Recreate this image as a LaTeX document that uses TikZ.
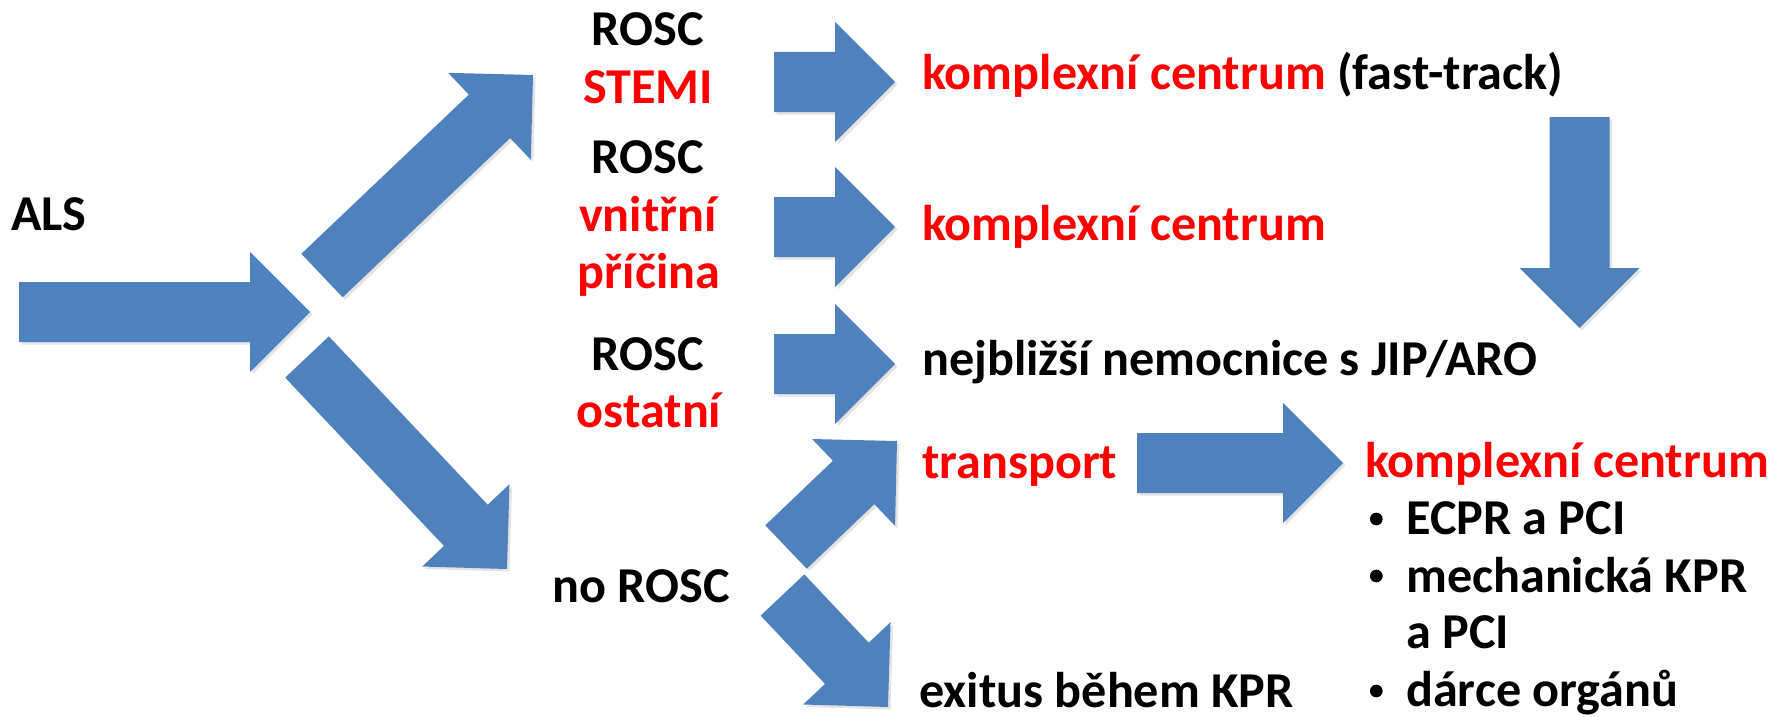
\documentclass[tikz,border=0pt]{standalone}
\usepackage{fontspec}
\setmainfont{Carlito}
\usetikzlibrary{calc,shadows}
\definecolor{arrowblue}{HTML}{4F81BD}
\definecolor{hot}{HTML}{FF0000}
\tikzset{
  flow/.style={fill=arrowblue, drop shadow={opacity=0.22, shadow xshift=2.5pt, shadow yshift=-2.5pt}},
  lbl/.style={inner sep=0pt, font=\bfseries\fontsize{50.2}{61}\selectfont, anchor=base west},
  clbl/.style={lbl, anchor=base},
  bul/.style={circle, fill=black, inner sep=0pt, minimum size=12.7pt},
}
% block arrow: body 60 wide, head 120 wide and 60 long, from tail #1 to tip #2
\newcommand\bluearrow[2]{%
  \coordinate (hb) at ($(#2)!60pt!(#1)$);
  \fill[flow] ($(#1)!30pt!90:(#2)$) -- ($(hb)!30pt!90:(#2)$) -- ($(hb)!60pt!90:(#2)$) -- (#2)
    -- ($(hb)!60pt!-90:(#2)$) -- ($(hb)!30pt!-90:(#2)$) -- ($(#1)!30pt!-90:(#2)$) -- cycle;
}
\begin{document}
\begin{tikzpicture}[x=1pt,y=-1pt]
\useasboundingbox (0,0) rectangle (1774,717);

% arrow end points
\coordinate (als-t) at (19,312);    \coordinate (als-p) at (310,312);
\coordinate (up-t) at (322,275.5);  \coordinate (up-p) at (533,75);
\coordinate (dn-t) at (307,357);    \coordinate (dn-p) at (507,569);
\coordinate (r1-t) at (774,82);     \coordinate (r1-p) at (895,82);
\coordinate (r2-t) at (774,227);    \coordinate (r2-p) at (895,227);
\coordinate (r3-t) at (774,364);    \coordinate (r3-p) at (895,364);
\coordinate (tu-t) at (786,547);    \coordinate (tu-p) at (897,441);
\coordinate (ex-t) at (782.5,595);  \coordinate (ex-p) at (888,707);
\coordinate (ft-t) at (1579.5,117); \coordinate (ft-p) at (1579.5,328);
\coordinate (tr-t) at (1137,463);   \coordinate (tr-p) at (1343,463);

\bluearrow{als-t}{als-p}
\bluearrow{up-t}{up-p}
\bluearrow{dn-t}{dn-p}
\bluearrow{r1-t}{r1-p}
\bluearrow{r2-t}{r2-p}
\bluearrow{r3-t}{r3-p}
\bluearrow{tu-t}{tu-p}
\bluearrow{ex-t}{ex-p}
\bluearrow{ft-t}{ft-p}
\bluearrow{tr-t}{tr-p}

% left and middle labels
\node[lbl] (als) at (11,230) {ALS};
\node[clbl] (rosc1) at (648,45.5) {ROSC};
\node[clbl, text=hot] (stemi) at (648,103) {STEMI};
\node[clbl] (rosc2) at (648,173) {ROSC};
\node[clbl, text=hot] (vnitrni) at (648,231) {vnitřní};
\node[clbl, text=hot] (pricina) at (649,288) {příčina};
\node[clbl] (rosc3) at (648,370.5) {ROSC};
\node[clbl, text=hot] (ostatni) at (649,427) {ostatní};
\node[clbl] (norosc) at (641,602) {no ROSC};

% destinations
\node[lbl] (kc1) at (922,89) {\textcolor{hot}{komplexní centrum} (fast-track)};
\node[lbl, text=hot] (kc2) at (922,240) {komplexní centrum};
\node[lbl] (jip) at (922,375) {nejbližší nemocnice s JIP/ARO};
\node[lbl, text=hot] (transport) at (922,478) {transport};
\node[lbl] (exitus) at (919,707) {exitus během KPR};
\node[lbl, text=hot] (kc3) at (1365,477) {komplexní centrum};

% options in the centre
\node[bul] (b1) at (1376.3,519) {};
\node[lbl] (ecpr) at (1406,534) {ECPR a PCI};
\node[bul] (b2) at (1376.3,576) {};
\node[lbl] (mech) at (1406,592) {mechanická KPR};
\node[lbl] (mech2) at (1406,648) {a PCI};
\node[bul] (b3) at (1376.3,691) {};
\node[lbl] (darce) at (1406,706) {dárce orgánů};
\end{tikzpicture}
\end{document}
